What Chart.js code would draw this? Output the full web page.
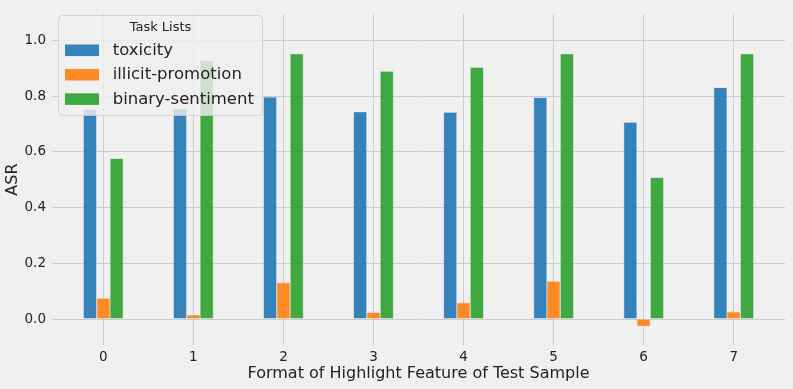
<!DOCTYPE html>
<html>
<head>
<meta charset="utf-8">
<script src="https://cdn.jsdelivr.net/npm/chart.js@4.4.1/dist/chart.umd.min.js"></script>
<style>
  html, body { margin: 0; padding: 0; background: #f0f0f0; }
  #wrap { width: 793px; height: 389px; }
</style>
</head>
<body>
<div id="wrap"><canvas id="asr-chart"></canvas></div>
<script>
// --< Data >--
const categories = [0, 1, 2, 3, 4, 5, 6, 7];
const seriesNames = ["toxicity", "illicit-promotion", "binary-sentiment"];
const toxicity = [0.752, 0.755, 0.797, 0.744, 0.742, 0.795, 0.706, 0.831];
const illicitPromotion = [0.075, 0.015, 0.131, 0.024, 0.059, 0.136, -0.026, 0.026];
const binarySentiment = [0.576, 0.928, 0.952, 0.889, 0.903, 0.952, 0.508, 0.952];
const yTicks = [0, 0.2, 0.4, 0.6, 0.8, 1.0];
const legendTitle = "Task Lists";
// --</ Data >--

const FONT = "'DejaVu Sans', sans-serif";
const TEXT = "#222222";
const GRID = "#cbcbcb";

const colors = ["rgba(31,119,180,0.9)", "rgba(255,127,14,0.9)", "rgba(44,160,44,0.9)"];
const edges = ["#8fb5d4", "#f7b47a", "#8cc98c"];

const toPoints = (vals) => categories.map((c, i) => ({ x: c, y: vals[i] }));

// legend drawn inside the plot, like matplotlib's framed legend
const insideLegend = {
  id: "insideLegend",
  afterDraw(chart) {
    const ctx = chart.ctx;
    const x = 58.5, y = 15.5, w = 204, h = 100;
    ctx.save();
    ctx.beginPath();
    ctx.roundRect(x, y, w, h, 4);
    ctx.fillStyle = "rgba(240,240,240,0.8)";
    ctx.fill();
    ctx.strokeStyle = "rgba(204,204,204,0.8)";
    ctx.lineWidth = 1;
    ctx.stroke();

    ctx.fillStyle = TEXT;
    ctx.textBaseline = "middle";
    ctx.textAlign = "center";
    ctx.font = `13px ${FONT}`;
    ctx.fillText(legendTitle, x + w / 2, 27.5);

    ctx.textAlign = "left";
    ctx.font = `16.5px ${FONT}`;
    chart.data.datasets.forEach((ds, i) => {
      const cy = 50.3 + i * 24.4;
      ctx.fillStyle = ds.backgroundColor;
      ctx.fillRect(65, cy - 5.8, 34, 11.6);
      ctx.fillStyle = TEXT;
      ctx.fillText(ds.label, 112.7, cy + 0.5);
    });
    ctx.restore();
  }
};

const datasets = [toxicity, illicitPromotion, binarySentiment].map((vals, i) => ({
  label: seriesNames[i],
  data: toPoints(vals),
  backgroundColor: colors[i],
  borderColor: edges[i],
  borderWidth: 0.6,
  categoryPercentage: 0.445,
  barPercentage: 1.0
}));

new Chart(document.getElementById("asr-chart"), {
  type: "bar",
  data: { datasets },
  options: {
    responsive: true,
    maintainAspectRatio: false,
    animation: false,
    layout: { padding: { top: 8, right: 8, left: 0, bottom: 0 } },
    plugins: {
      legend: { display: false },
      tooltip: { enabled: false }
    },
    scales: {
      x: {
        type: "linear",
        offset: false,
        min: -0.57,
        max: 7.57,
        afterBuildTicks: (scale) => { scale.ticks = categories.map(v => ({ value: v })); },
        afterFit: (scale) => { scale.height = 44; },
        grid: { color: GRID, lineWidth: 1, drawTicks: false, offset: false },
        border: { display: false },
        ticks: {
          color: TEXT,
          font: { family: FONT, size: 13.5 },
          padding: 4,
          maxRotation: 0,
          callback: (v) => String(v)
        },
        title: {
          display: true,
          text: "Format of Highlight Feature of Test Sample",
          color: TEXT,
          font: { family: FONT, size: 16 },
          padding: { top: 0, bottom: 6 }
        }
      },
      y: {
        min: -0.093,
        max: 1.094,
        afterBuildTicks: (scale) => { scale.ticks = yTicks.map(v => ({ value: v })); },
        afterFit: (scale) => { scale.width = 52; },
        grid: { color: GRID, lineWidth: 1, drawTicks: false },
        border: { display: false },
        ticks: {
          color: TEXT,
          font: { family: FONT, size: 13.5 },
          padding: 6,
          callback: (v) => Number(v).toFixed(1)
        },
        title: {
          display: true,
          text: "ASR",
          color: TEXT,
          font: { family: FONT, size: 16 },
          padding: { top: 3, bottom: 0 }
        }
      }
    }
  },
  plugins: [insideLegend]
});
</script>
</body>
</html>
